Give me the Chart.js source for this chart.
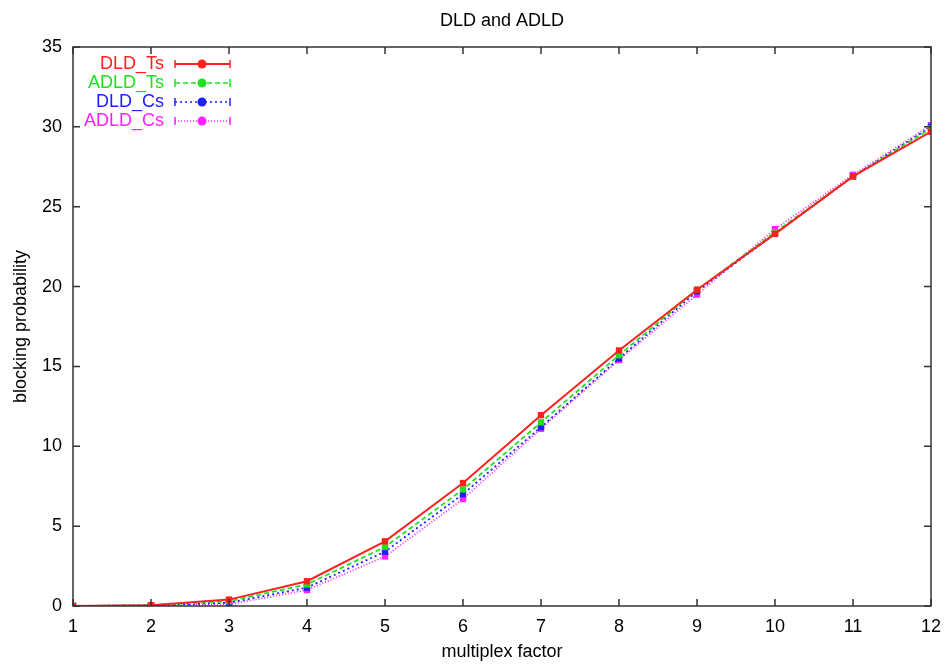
<!DOCTYPE html>
<html>
<head>
<meta charset="utf-8">
<script src="https://cdn.jsdelivr.net/npm/chart.js@4"></script>
<style>
  body { margin: 0; background: #fff; }
  #wrap { width: 948px; height: 670px; }
</style>
</head>
<body>
<div id="wrap"><canvas id="chart"></canvas></div>
<script>
// данные
const factors = [1, 2, 3, 4, 5, 6, 7, 8, 9, 10, 11, 12];
const dldTs  = [0, 0.05, 0.4, 1.55, 4.05, 7.7, 11.95, 16.0, 19.8, 23.3, 26.9, 29.7];
const adldTs = [0, 0.05, 0.3, 1.35, 3.7, 7.3, 11.5, 15.7, 19.8, 23.4, 26.9, 29.9];
const dldCs  = [0, 0.04, 0.2, 1.15, 3.4, 7.0, 11.2, 15.5, 19.7, 23.3, 26.9, 30.0];
const adldCs = [0, 0.03, 0.1, 1.0, 3.1, 6.7, 11.1, 15.4, 19.5, 23.6, 27.0, 30.1];
const yTicks = [0, 5, 10, 15, 20, 25, 30, 35];

const seriesNames = ['DLD_Ts', 'ADLD_Ts', 'DLD_Cs', 'ADLD_Cs'];
const seriesColors = ['#ff2020', '#20e020', '#2020ff', '#ff20ff'];
const seriesDash = [[], [5, 3], [2, 3], [1, 2]];
const seriesData = [dldTs, adldTs, dldCs, adldCs];

const font = 'Liberation Sans, Arial, sans-serif';

// рамка, внутренние засечки и легенда в стиле gnuplot
const gnuplotFrame = {
    id: 'gnuplotFrame',
    afterDraw(chart) {
        const ctx = chart.ctx;
        const a = chart.chartArea;
        const xs = chart.scales.x, ys = chart.scales.y;
        ctx.save();
        ctx.strokeStyle = '#333';
        ctx.lineWidth = 1.5;
        ctx.strokeRect(a.left, a.top, a.right - a.left, a.bottom - a.top);
        ctx.beginPath();
        factors.forEach(f => {
            const px = xs.getPixelForValue(f);
            ctx.moveTo(px, a.bottom); ctx.lineTo(px, a.bottom - 7);
            ctx.moveTo(px, a.top); ctx.lineTo(px, a.top + 7);
        });
        yTicks.forEach(t => {
            const py = ys.getPixelForValue(t);
            ctx.moveTo(a.left, py); ctx.lineTo(a.left + 7, py);
            ctx.moveTo(a.right, py); ctx.lineTo(a.right - 7, py);
        });
        ctx.stroke();

        // легенда
        ctx.font = '18px ' + font;
        ctx.textAlign = 'right';
        ctx.textBaseline = 'middle';
        seriesNames.forEach((name, i) => {
            const y = 64 + i * 19;
            const col = seriesColors[i];
            ctx.fillStyle = col;
            ctx.fillText(name, 164, y);
            ctx.strokeStyle = col;
            ctx.lineWidth = i === 0 ? 2 : 1.5;
            ctx.setLineDash(seriesDash[i]);
            ctx.beginPath();
            ctx.moveTo(175, y); ctx.lineTo(230, y);
            ctx.stroke();
            ctx.setLineDash([]);
            ctx.lineWidth = 1.5;
            ctx.beginPath();
            ctx.moveTo(175, y - 4); ctx.lineTo(175, y + 4);
            ctx.moveTo(230, y - 4); ctx.lineTo(230, y + 4);
            ctx.stroke();
            ctx.beginPath();
            ctx.arc(202, y, 4.5, 0, Math.PI * 2);
            ctx.fill();
        });
        ctx.restore();
    }
};

document.addEventListener('DOMContentLoaded', function() {
    const ctx = document.getElementById('chart').getContext('2d');
    new Chart(ctx, {
        type: 'line',
        data: {
            datasets: seriesNames.map((name, i) => ({
                label: name,
                data: factors.map((f, k) => ({ x: f, y: seriesData[i][k] })),
                borderColor: seriesColors[i],
                backgroundColor: seriesColors[i],
                borderWidth: i === 0 ? 2 : 1.8,
                borderDash: seriesDash[i],
                pointStyle: 'rect',
                pointRadius: 4.5,
                pointBorderWidth: 0,
                tension: 0
            }))
        },
        plugins: [gnuplotFrame],
        options: {
            responsive: true,
            maintainAspectRatio: false,
            animation: false,
            layout: { padding: { left: 0, right: 17, top: 0, bottom: 0 } },
            plugins: {
                legend: { display: false },
                tooltip: { enabled: false },
                title: {
                    display: true,
                    text: 'DLD and ADLD',
                    fullSize: false,
                    color: '#000',
                    font: { family: font, size: 18, weight: 'normal' },
                    padding: { top: 10, bottom: 15.4 }
                }
            },
            scales: {
                x: {
                    type: 'linear',
                    min: 1,
                    max: 12,
                    afterFit(scale) {
                        scale.height = 64;
                        scale.paddingLeft = 0;
                        scale.paddingRight = 0;
                    },
                    afterBuildTicks(scale) { scale.ticks = factors.map(v => ({ value: v })); },
                    grid: { display: false, drawTicks: false },
                    border: { display: false },
                    ticks: { color: '#000', padding: 10, font: { family: font, size: 18 } },
                    title: {
                        display: true,
                        text: 'multiplex factor',
                        color: '#000',
                        font: { family: font, size: 18 },
                        padding: { top: 2, bottom: 7 }
                    }
                },
                y: {
                    min: 0,
                    max: 35,
                    afterFit(scale) { scale.width = 73; },
                    afterBuildTicks(scale) { scale.ticks = yTicks.map(v => ({ value: v })); },
                    grid: { display: false, drawTicks: false },
                    border: { display: false },
                    ticks: { color: '#000', padding: 11, font: { family: font, size: 18 } },
                    title: {
                        display: true,
                        text: 'blocking probability',
                        color: '#000',
                        font: { family: font, size: 18 },
                        padding: { top: 10, bottom: 4 }
                    }
                }
            }
        }
    });
});
</script>
</body>
</html>
